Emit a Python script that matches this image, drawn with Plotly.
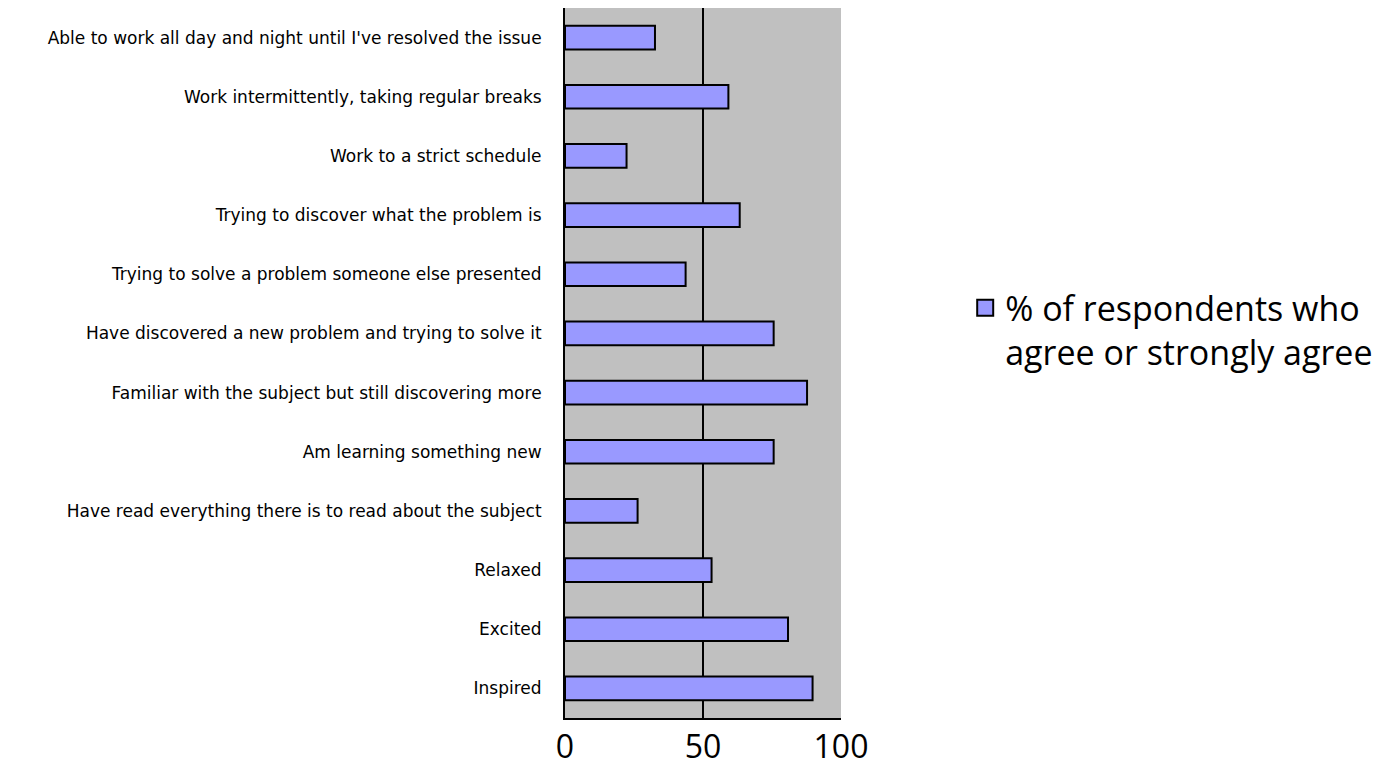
import plotly.graph_objects as go

categories = [
    "Able to work all day and night until I've resolved the issue",
    "Work intermittently, taking regular breaks",
    "Work to a strict schedule",
    "Trying to discover what the problem is",
    "Trying to solve a problem someone else presented",
    "Have discovered a new problem and trying to solve it",
    "Familiar with the subject but still discovering more",
    "Am learning something new",
    "Have read everything there is to read about the subject",
    "Relaxed",
    "Excited",
    "Inspired",
]
values = [32.6, 59.2, 22.3, 63.3, 43.7, 75.6, 87.7, 75.6, 26.3, 53.1, 80.8, 89.7]
series_name = "% of respondents who<br>agree or strongly agree"
x_ticks = [0, 50, 100]

BAR_COLOR = "#9999FF"

fig = go.Figure()
fig.add_trace(go.Bar(
    y=categories, x=values, orientation="h", name=series_name,
    marker=dict(color=BAR_COLOR, line=dict(color="black", width=2)),
    showlegend=False, legendgroup="s",
))
# legend entry with a larger square swatch
fig.add_trace(go.Scatter(
    x=[None], y=[None], mode="markers", name=series_name, legendgroup="s",
    marker=dict(symbol="square", size=16, color=BAR_COLOR, line=dict(color="black", width=2)),
    showlegend=True, hoverinfo="skip",
))

fig.update_layout(
    width=1394, height=769,
    margin=dict(l=565, r=553, t=8, b=51, autoexpand=False),
    paper_bgcolor="white", plot_bgcolor="#C0C0C0",
    bargap=0.6,
    font=dict(family="Open Sans", color="black"),
    legend=dict(x=1.45, y=0.618, xanchor="left", yanchor="top",
                font=dict(size=34, family="Open Sans"), valign="top",
                bgcolor="rgba(0,0,0,0)", itemwidth=30, tracegroupgap=0),
)
fig.update_xaxes(
    range=[0, 100], tickvals=x_ticks, showgrid=True, gridcolor="black", gridwidth=1.5,
    zeroline=False, showline=True, linecolor="black", linewidth=2,
    ticks="", tickfont=dict(size=32), ticklabelstandoff=0,
)
fig.update_yaxes(
    autorange="reversed", showgrid=False, zeroline=False,
    showline=True, linecolor="black", linewidth=2,
    ticks="", tickfont=dict(size=17, family="DejaVu Sans"), ticklabelstandoff=18,
)

fig.write_html("out.html")
